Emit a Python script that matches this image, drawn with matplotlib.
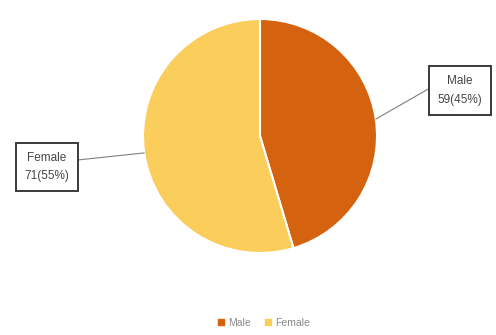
import matplotlib
matplotlib.use('Agg')
import matplotlib.pyplot as plt
from matplotlib.lines import Line2D
import numpy as np

plt.rcParams['font.family'] = ['Liberation Sans', 'DejaVu Sans']

genders = ['Male', 'Female']
counts = [59, 71]
colors = ['#D4620F', '#FBCD5A']

W, H = 496, 335
fig = plt.figure(figsize=(W / 100, H / 100), dpi=100)
fig.patch.set_facecolor('white')

# pie centre and radius in pixels
cx, cy, r = 260, 136, 117
ax = fig.add_axes([(cx - r) / W, (H - cy - r) / H, 2 * r / W, 2 * r / H])
wedges, _ = ax.pie(counts, colors=colors, startangle=90, counterclock=False,
                   wedgeprops=dict(edgecolor='white', linewidth=1.5))
ax.set_xlim(-1, 1)
ax.set_ylim(-1, 1)
ax.set_aspect('equal')
ax.axis('off')

total = sum(counts)
label_pos = [(1.71, 0.39), (-1.82, -0.265)]
anchors = [(0, 0.72), (1, 0.70)]
for w, name, n, pos, rel in zip(wedges, genders, counts, label_pos, anchors):
    mid = np.deg2rad((w.theta1 + w.theta2) / 2)
    pt = (np.cos(mid), np.sin(mid))
    ax.annotate(f'{name}\n{n}({round(100 * n / total)}%)', xy=pt, xytext=pos,
                ha='center', va='center', fontsize=8.5, color='#454545',
                linespacing=1.75, annotation_clip=False,
                bbox=dict(boxstyle='square,pad=0.75', facecolor='white',
                          edgecolor='#3a3a3a', linewidth=1.4),
                arrowprops=dict(arrowstyle='-', color='#7f7f7f', lw=0.8,
                                shrinkA=0, shrinkB=0, relpos=rel))

handles = [Line2D([], [], marker='s', linestyle='', markersize=4,
                  markerfacecolor=c, markeredgecolor=c) for c in colors]
fig.legend(handles, genders, loc='center', bbox_to_anchor=(0.53, 1 - 323 / H),
           ncol=2, frameon=False, fontsize=7.5, labelcolor='#8a8a8a',
           handletextpad=0.2, columnspacing=1.2, handlelength=1.0)

plt.savefig('out.png', dpi=100, facecolor='white')
plt.close()
